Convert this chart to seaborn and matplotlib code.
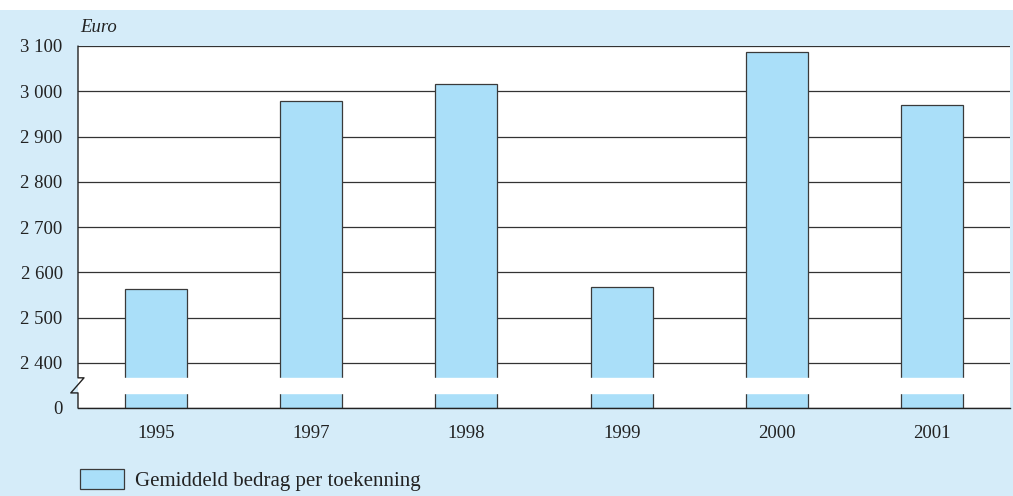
import numpy as np
import pandas as pd
import seaborn as sns
import matplotlib.pyplot as plt
from matplotlib.patches import Patch, Rectangle
import matplotlib.transforms as mtransforms

years = ["1995", "1997", "1998", "1999", "2000", "2001"]
amounts = [2563, 2978, 3016, 2568, 3087, 2970]
tick_values = [0, 2400, 2500, 2600, 2700, 2800, 2900, 3000, 3100]
tick_labels = ["0", "2 400", "2 500", "2 600", "2 700", "2 800", "2 900", "3 000", "3 100"]
legend_label = "Gemiddeld bedrag per toekenning"

bg = "#d5ecf9"
bar_col = "#aadff9"
edge = "#3a3a3a"

sns.set_style("white")
plt.rcParams["font.family"] = ["Liberation Serif", "DejaVu Serif"]


# broken axis: 0..2400 squeezed into one step, above that 100 per step
def fwd(v):
    v = np.asarray(v, dtype=float)
    return np.where(v < 2400, v / 2400.0, (v - 2300.0) / 100.0)


def inv(p):
    p = np.asarray(p, dtype=float)
    return np.where(p < 1, p * 2400.0, p * 100.0 + 2300.0)


df = pd.DataFrame({"jaar": years, "bedrag": amounts})

fig = plt.figure(figsize=(10.13, 4.96), dpi=100)
fig.patch.set_facecolor("white")
fig.patches.append(Rectangle((0, 0), 1, 486 / 496, transform=fig.transFigure,
                             facecolor=bg, edgecolor="none", zorder=-10))

ax = fig.add_axes([78 / 1013, 1 - 408 / 496, 932 / 1013, 362 / 496])
ax.set_facecolor("white")
ax.set_yscale("function", functions=(fwd, inv))

sns.barplot(data=df, x="jaar", y="bedrag", color=bar_col, edgecolor=edge,
            linewidth=0.9, width=0.4, saturation=1, ax=ax, zorder=2)

ax.set_ylim(0, 3100)
ax.set_xlim(-0.5, 5.5)
ax.set_yticks(tick_values)
ax.set_yticklabels(tick_labels)
ax.tick_params(axis="both", length=0, labelsize=13.5, colors="#222222")
ax.tick_params(axis="y", pad=11)
ax.tick_params(axis="x", pad=12)
ax.set_xlabel("")
ax.set_ylabel("")
ax.set_axisbelow(True)
ax.yaxis.grid(True, color="#333333", linewidth=0.9)

for s in ["top", "right", "left"]:
    ax.spines[s].set_visible(False)
ax.spines["bottom"].set_color("#222222")
ax.spines["bottom"].set_linewidth(1.0)

# white gap across the break
ax.axhspan(800, 1600, color="white", zorder=5)

# left axis line with zigzag
trans = mtransforms.blended_transform_factory(ax.transAxes, ax.transData)
dx = 6 / 932
ax.plot([0, 0, dx, -1.2 * dx, 0, 0], [3100, 1600, 1600, 800, 800, 0],
        color="#222222", linewidth=1.0, transform=trans, clip_on=False, zorder=6)

fig.text(80 / 1013, 1 - 27 / 496, "Euro", fontsize=13.5, style="italic",
         color="#222222", va="center", ha="left")

handle = Patch(facecolor=bar_col, edgecolor=edge, linewidth=0.9)
fig.legend([handle], [legend_label], loc="lower left",
           bbox_to_anchor=(80 / 1013, 5 / 496), frameon=False, fontsize=15,
           borderaxespad=0, borderpad=0,
           handlelength=2.1, handleheight=1.1, handletextpad=0.53,
           labelcolor="#222222")

fig.savefig("out.png", dpi=100, facecolor=fig.get_facecolor())
